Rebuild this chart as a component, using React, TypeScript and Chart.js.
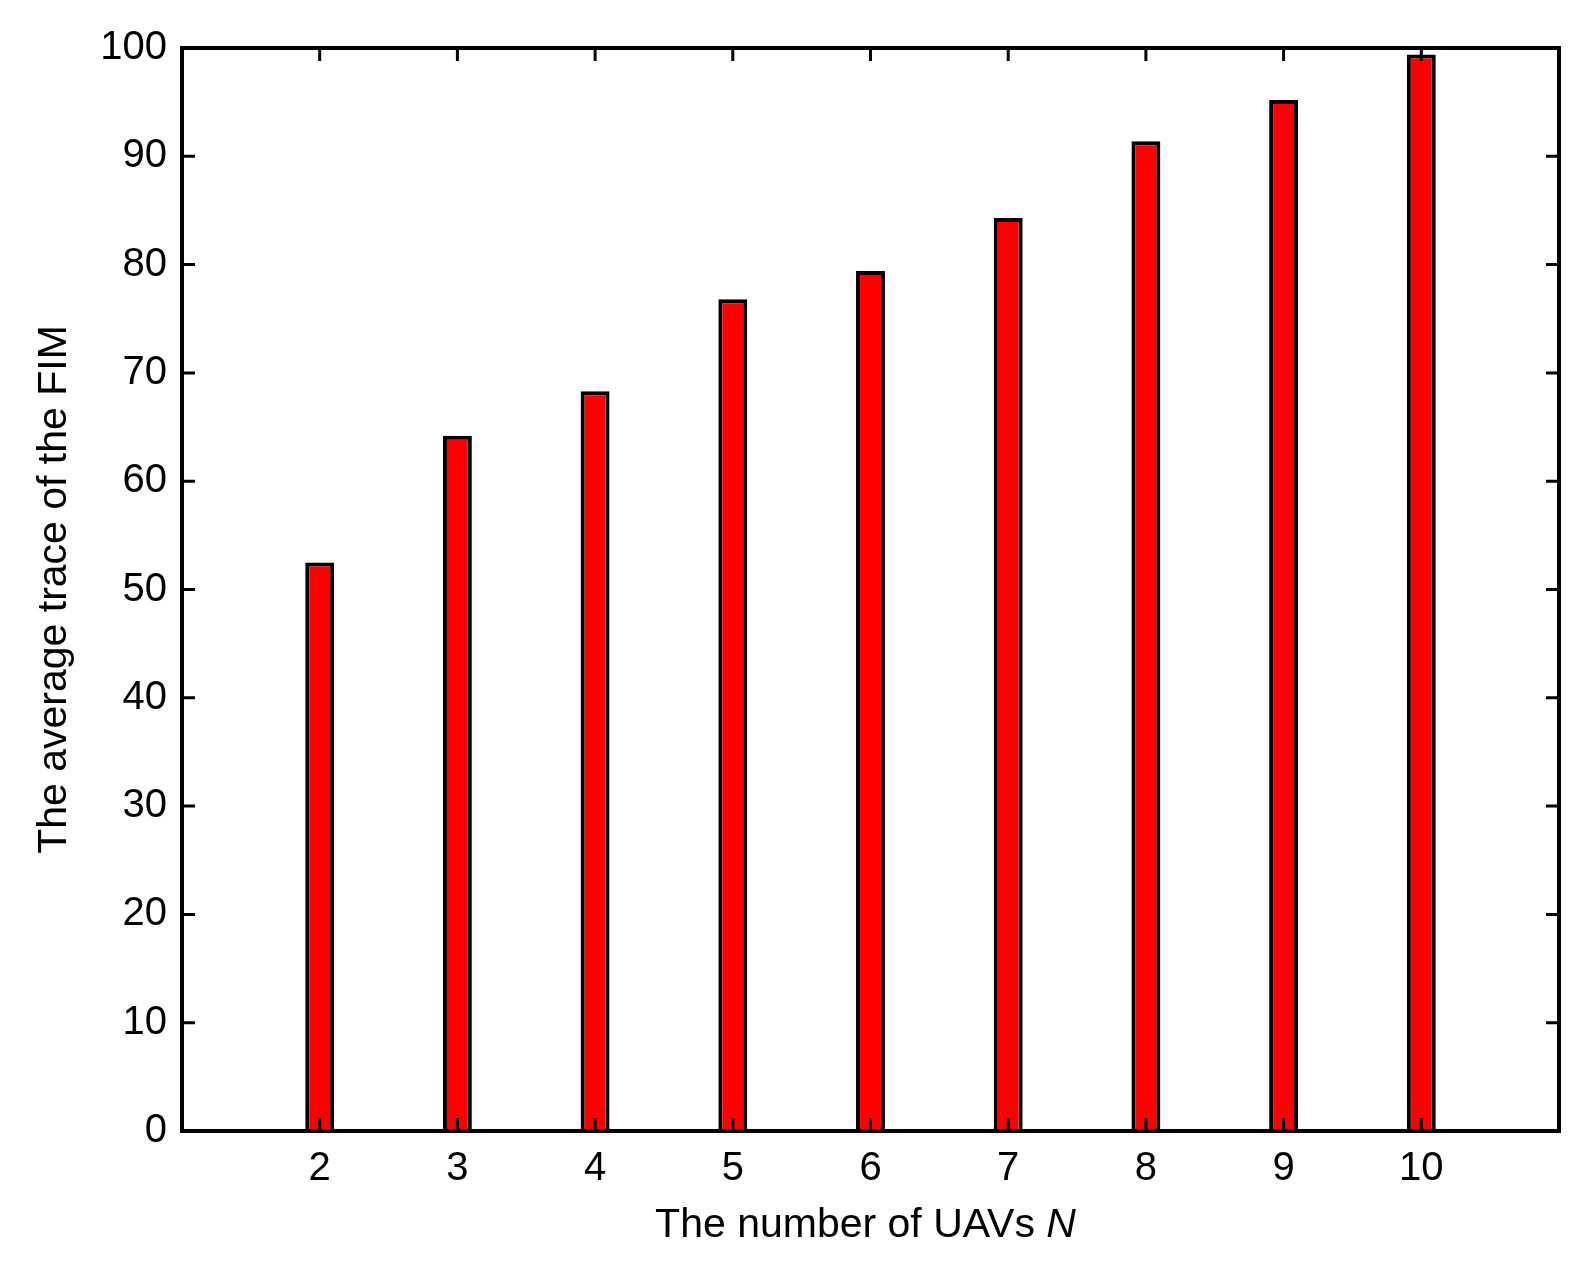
import React, { useEffect, useRef } from "react";
import { Chart, registerables } from "chart.js";

Chart.register(...registerables);

const uavCounts = [2, 3, 4, 5, 6, 7, 8, 9, 10];
const avgTrace = [52.5, 64.2, 68.3, 76.8, 79.4, 84.3, 91.4, 95.2, 99.4];
const xTickValues = [2, 3, 4, 5, 6, 7, 8, 9, 10];
const yTickValues = [0, 10, 20, 30, 40, 50, 60, 70, 80, 90, 100];

const FONT = "'Liberation Sans', Arial, sans-serif";

// MATLAB style: box round the axes, ticks pointing inwards on all four sides
const boxPlugin = {
  id: "matlabBox",
  afterDatasetsDraw(chart: any) {
    const { ctx, chartArea } = chart;
    const { left, right, top, bottom } = chartArea;
    const xs = chart.scales.x;
    const ys = chart.scales.y;
    const len = 13;
    ctx.save();
    ctx.strokeStyle = "#000";
    ctx.lineWidth = 3;
    ctx.beginPath();
    xTickValues.forEach((v) => {
      const px = xs.getPixelForValue(v);
      ctx.moveTo(px, bottom);
      ctx.lineTo(px, bottom - len);
      ctx.moveTo(px, top);
      ctx.lineTo(px, top + len);
    });
    yTickValues.forEach((v) => {
      const py = ys.getPixelForValue(v);
      ctx.moveTo(left, py);
      ctx.lineTo(left + len, py);
      ctx.moveTo(right, py);
      ctx.lineTo(right - len, py);
    });
    ctx.stroke();
    ctx.lineWidth = 4;
    ctx.lineJoin = "miter";
    ctx.strokeRect(left, top, right - left, bottom - top);

    // x axis title with the italic N
    const plain = "The number of UAVs ";
    const ital = "N";
    ctx.fillStyle = "#000";
    ctx.textBaseline = "alphabetic";
    ctx.font = `41px ${FONT}`;
    const w1 = ctx.measureText(plain).width;
    ctx.font = `italic 41px ${FONT}`;
    const w2 = ctx.measureText(ital).width;
    const x0 = (left + right) / 2 - (w1 + w2) / 2 - 5;
    const baseY = bottom + 106;
    ctx.font = `41px ${FONT}`;
    ctx.textAlign = "left";
    ctx.fillText(plain, x0, baseY);
    ctx.font = `italic 41px ${FONT}`;
    ctx.fillText(ital, x0 + w1, baseY);
    ctx.restore();
  },
};

const App = () => {
  const chartRef = useRef<HTMLCanvasElement>(null);
  const chartInstance = useRef<any>(null);

  useEffect(() => {
    document.body.style.margin = "0";

    const config: any = {
      type: "bar",
      data: {
        datasets: [
          {
            label: "average trace",
            data: uavCounts.map((n, i) => ({ x: n, y: avgTrace[i] })),
            backgroundColor: "#ff0000",
            borderColor: "#000000",
            borderWidth: 4,
            barPercentage: 0.21,
            categoryPercentage: 1,
          },
        ],
      },
      options: {
        responsive: false,
        animation: false,
        devicePixelRatio: 1,
        layout: { padding: { top: 48, right: 35, left: 0, bottom: 0 } },
        plugins: {
          legend: { display: false },
          tooltip: { enabled: false },
        },
        scales: {
          x: {
            type: "linear",
            min: 1,
            max: 11,
            offset: false,
            grid: { display: false, drawTicks: false, offset: false },
            border: { display: false },
            afterBuildTicks: (scale: any) => {
              scale.ticks = xTickValues.map((v) => ({ value: v }));
            },
            afterFit: (scale: any) => {
              scale.height = 135;
            },
            ticks: {
              color: "#000",
              padding: 14,
              maxRotation: 0,
              autoSkip: false,
              font: { family: FONT, size: 40 },
            },
          },
          y: {
            min: 0,
            max: 100,
            grid: { display: false, drawTicks: false },
            border: { display: false },
            afterBuildTicks: (scale: any) => {
              scale.ticks = yTickValues.map((v) => ({ value: v }));
            },
            afterFit: (scale: any) => {
              scale.width = 182;
            },
            ticks: {
              color: "#000",
              padding: 15,
              font: { family: FONT, size: 40 },
            },
            title: {
              display: true,
              text: "The average trace of the FIM",
              color: "#000",
              font: { family: FONT, size: 41 },
              padding: { top: 30, bottom: 0 },
            },
          },
        },
      },
      plugins: [boxPlugin],
    };

    if (chartInstance.current) {
      chartInstance.current.destroy();
    }
    if (chartRef.current) {
      chartInstance.current = new Chart(chartRef.current, config);
    }
    return () => {
      if (chartInstance.current) {
        chartInstance.current.destroy();
        chartInstance.current = null;
      }
    };
  }, []);

  return (
    <div style={{ width: 1594, height: 1266, background: "#fff" }}>
      <canvas ref={chartRef} width={1594} height={1266}></canvas>
    </div>
  );
};

export default App;
